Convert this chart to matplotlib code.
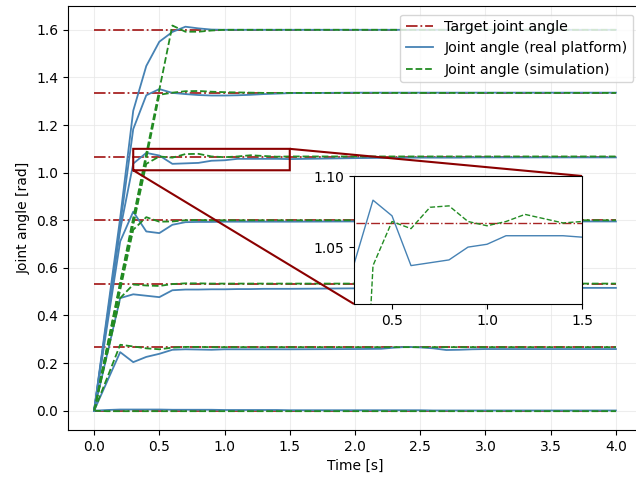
import matplotlib

matplotlib.use("Agg")
import matplotlib.pyplot as plt

# sample times [s]
time = [0.0, 0.1, 0.2, 0.3, 0.4, 0.5, 0.6, 0.7, 0.8, 0.9, 1.0, 1.1, 1.2, 1.3, 1.4, 1.5,
        2.0, 2.2, 2.3, 2.4, 2.5, 2.6, 2.7, 2.8, 2.9, 3.0, 3.5, 4.0]

targets = [0.0, 0.2667, 0.5333, 0.8, 1.0667, 1.3333, 1.6]

real_j0 = [0.0, 0.003, 0.005, 0.005, 0.005, 0.005, 0.004, 0.004, 0.004, 0.004, 0.003, 0.003, 0.003, 0.003,
           0.003, 0.002, 0.002, 0.002, 0.002, 0.002, 0.002, 0.001, 0.001, 0.001, 0.001, 0.001, 0.001, 0.001]
real_j1 = [0.0, 0.123, 0.246, 0.204, 0.226, 0.239, 0.256, 0.258, 0.257, 0.256, 0.258, 0.258, 0.258, 0.258,
           0.258, 0.258, 0.259, 0.260, 0.265, 0.268, 0.266, 0.262, 0.255, 0.256, 0.258, 0.259, 0.259, 0.259]
real_j2 = [0.0, 0.237, 0.473, 0.489, 0.483, 0.477, 0.506, 0.509, 0.509, 0.510, 0.510, 0.511, 0.511, 0.512,
           0.512, 0.512, 0.514, 0.515, 0.515, 0.515, 0.515, 0.515, 0.515, 0.516, 0.516, 0.516, 0.516, 0.516]
real_j3 = [0.0, 0.356, 0.711, 0.836, 0.753, 0.746, 0.781, 0.792, 0.793, 0.793, 0.794, 0.794, 0.794, 0.794,
           0.794, 0.794, 0.795, 0.795, 0.795, 0.795, 0.795, 0.795, 0.795, 0.795, 0.795, 0.795, 0.795, 0.795]
real_j4 = [0.0, 0.380, 0.760, 1.038, 1.083, 1.072, 1.037, 1.039, 1.041, 1.050, 1.052, 1.058, 1.058, 1.058,
           1.058, 1.057, 1.061, 1.062, 1.062, 1.063, 1.063, 1.063, 1.063, 1.063, 1.064, 1.064, 1.064, 1.064]
real_j5 = [0.0, 0.390, 0.780, 1.183, 1.325, 1.351, 1.335, 1.330, 1.326, 1.324, 1.324, 1.325, 1.327, 1.330,
           1.332, 1.334, 1.336, 1.336, 1.336, 1.336, 1.336, 1.336, 1.336, 1.336, 1.336, 1.336, 1.336, 1.336]
real_j6 = [0.0, 0.405, 0.810, 1.260, 1.448, 1.550, 1.591, 1.613, 1.606, 1.601, 1.600, 1.600, 1.600, 1.600,
           1.600, 1.600, 1.600, 1.600, 1.600, 1.600, 1.600, 1.600, 1.600, 1.600, 1.600, 1.600, 1.600, 1.600]

sim_j0 = [0.0, -0.002, -0.002, -0.002, -0.002, -0.002, -0.002, -0.002, -0.002, -0.002, -0.002, -0.002, -0.002,
          -0.002, -0.002, -0.002, -0.002, -0.002, -0.002, -0.002, -0.002, -0.002, -0.002, -0.002, -0.002,
          -0.002, -0.002, -0.002]
sim_j1 = [0.0, 0.138, 0.277, 0.270, 0.262, 0.258, 0.265, 0.268, 0.268, 0.267, 0.267, 0.267, 0.267, 0.267,
          0.267, 0.267, 0.267, 0.267, 0.267, 0.267, 0.267, 0.267, 0.267, 0.267, 0.267, 0.267, 0.267, 0.267]
sim_j2 = [0.0, 0.237, 0.473, 0.530, 0.526, 0.524, 0.532, 0.535, 0.535, 0.534, 0.534, 0.534, 0.534, 0.534,
          0.534, 0.534, 0.534, 0.534, 0.534, 0.534, 0.534, 0.534, 0.534, 0.534, 0.534, 0.534, 0.534, 0.534]
sim_j3 = [0.0, 0.253, 0.507, 0.760, 0.813, 0.794, 0.795, 0.800, 0.801, 0.800, 0.800, 0.800, 0.800, 0.800,
          0.800, 0.800, 0.800, 0.800, 0.800, 0.800, 0.800, 0.800, 0.800, 0.800, 0.800, 0.800, 0.800, 0.800]
sim_j4 = [0.0, 0.260, 0.520, 0.780, 1.037, 1.068, 1.063, 1.078, 1.079, 1.068, 1.065, 1.068, 1.073, 1.070,
          1.067, 1.068, 1.068, 1.068, 1.068, 1.068, 1.068, 1.068, 1.068, 1.068, 1.068, 1.068, 1.068, 1.068]
sim_j5 = [0.0, 0.265, 0.530, 0.796, 1.060, 1.327, 1.336, 1.342, 1.343, 1.340, 1.338, 1.337, 1.336, 1.335,
          1.335, 1.335, 1.335, 1.335, 1.335, 1.335, 1.335, 1.335, 1.335, 1.335, 1.335, 1.335, 1.335, 1.335]
sim_j6 = [0.0, 0.270, 0.540, 0.810, 1.080, 1.348, 1.618, 1.592, 1.592, 1.597, 1.600, 1.600, 1.600, 1.600,
          1.600, 1.600, 1.600, 1.600, 1.600, 1.600, 1.600, 1.600, 1.600, 1.600, 1.600, 1.600, 1.600, 1.600]

real = [real_j0, real_j1, real_j2, real_j3, real_j4, real_j5, real_j6]
sim = [sim_j0, sim_j1, sim_j2, sim_j3, sim_j4, sim_j5, sim_j6]

ZOOM_JOINT = 4  # joint shown in the inset

TARGET_COLOR = "#a82424"
REAL_COLOR = "steelblue"
SIM_COLOR = "forestgreen"


def draw(ax, joints, lw):
    for n, k in enumerate(joints):
        ax.plot([time[0], time[-1]], [targets[k], targets[k]], "-.", color=TARGET_COLOR, lw=lw,
                label="Target joint angle" if n == 0 else None)
        ax.plot(time, real[k], "-", color=REAL_COLOR, lw=lw,
                label="Joint angle (real platform)" if n == 0 else None)
        ax.plot(time, sim[k], "--", color=SIM_COLOR, lw=lw,
                label="Joint angle (simulation)" if n == 0 else None)


fig = plt.figure(figsize=(6.36, 4.84), dpi=100)
ax = fig.add_axes([68 / 636, 54 / 484, 574 / 636, 424 / 484])
draw(ax, range(len(targets)), 1.3)
ax.set_xlim(-0.2, 4.2)
ax.set_ylim(-0.081, 1.70)
ax.set_xticks([0.0, 0.5, 1.0, 1.5, 2.0, 2.5, 3.0, 3.5, 4.0])
ax.set_yticks([0.0, 0.2, 0.4, 0.6, 0.8, 1.0, 1.2, 1.4, 1.6])
ax.grid(color="#e6e6e6", lw=0.8, alpha=0.7)
ax.set_axisbelow(True)
ax.set_xlabel("Time [s]")
ax.set_ylabel("Joint angle [rad]")
ax.legend(loc="upper right", fontsize=10.3, borderaxespad=0.6, handlelength=1.9)

axins = fig.add_axes([354 / 636, 180 / 484, 228 / 636, 128 / 484])
draw(axins, [ZOOM_JOINT], 1.0)
axins.set_xlim(0.3, 1.5)
axins.set_ylim(1.01, 1.10)
axins.set_xticks([0.5, 1.0, 1.5])
axins.set_yticks([1.05, 1.10])
axins.set_yticklabels(["1.05", "1.10"])

ax.indicate_inset_zoom(axins, edgecolor="darkred", alpha=1.0, lw=1.5)

fig.savefig("out.png", dpi=100)
